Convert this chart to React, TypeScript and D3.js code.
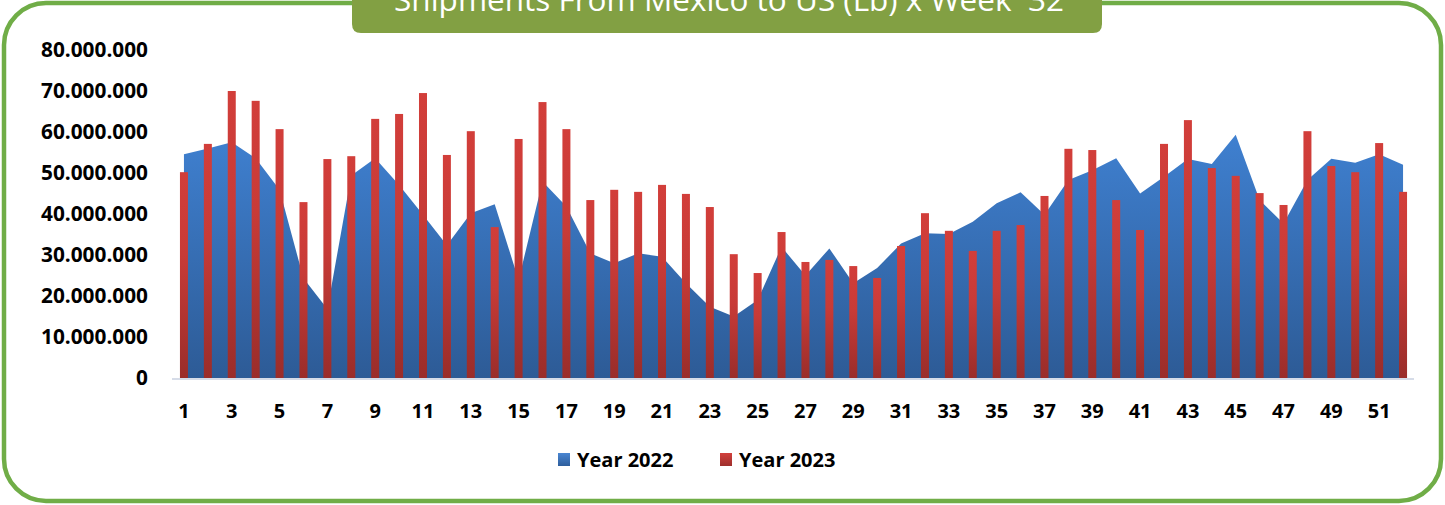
import React from "react";
import * as d3 from "d3";

const weeks: number[] = Array.from({ length: 52 }, (_, i) => i + 1);
const year2022: number[] = [
  54.6, 56.0, 57.5, 53.6, 45.9, 24.3, 16.8, 49.4, 53.6, 47.1,
  39.8, 32.4, 40.2, 42.4, 23.9, 47.9, 41.8, 30.4, 28.0, 30.4,
  29.6, 23.1, 17.4, 15.0, 19.0, 32.0, 25.0, 31.6, 23.1, 26.8,
  32.8, 35.3, 35.1, 38.1, 42.6, 45.3, 39.8, 48.3, 50.7, 53.6,
  45.0, 49.1, 53.4, 52.2, 59.3, 43.4, 37.7, 48.3, 53.5, 52.5,
  54.6, 52.0,
].map((v) => v * 1e6);
const year2023: number[] = [
  50.2, 57.1, 70.0, 67.6, 60.7, 42.9, 53.4, 54.1, 63.2, 64.4,
  69.5, 54.4, 60.2, 36.8, 58.3, 67.3, 60.7, 43.4, 45.9, 45.4,
  47.1, 44.9, 41.7, 30.2, 25.6, 35.6, 28.3, 28.8, 27.3, 24.4,
  32.2, 40.2, 35.9, 31.0, 35.9, 37.3, 44.4, 55.9, 55.6, 43.4,
  36.1, 57.1, 62.9, 51.2, 49.3, 45.1, 42.2, 60.2, 51.7, 50.2,
  57.3, 45.4,
].map((v) => v * 1e6);
const yTicks: number[] = [0, 10e6, 20e6, 30e6, 40e6, 50e6, 60e6, 70e6, 80e6];
const seriesNames: string[] = ["Year 2022", "Year 2023"];
const title = "Shipments From Mexico to US (Lb) x Week  32";

const W = 1445;
const H = 505;

const fmt = (v: number) =>
  v === 0 ? "0" : d3.format(",")(v).replace(/,/g, ".");

export default function App() {
  const x = d3.scaleBand<number>().domain(weeks).range([172, 1415]).padding(0);
  const y = d3.scaleLinear().domain([0, 80e6]).range([378, 50]);
  const cx = (w: number) => (x(w) as number) + x.bandwidth() / 2;
  const barW = 8;

  const area = d3
    .area<number>()
    .x((_, i) => cx(weeks[i]))
    .y0(y(0))
    .y1((d) => y(d));

  const font = "'Open Sans', 'DejaVu Sans', sans-serif";

  return (
    <div style={{ position: "absolute", left: 0, top: 0 }}>
      <svg width={W} height={H} style={{ display: "block" }}>
        <defs>
          <linearGradient id="gBlue" x1="0" y1="0" x2="0" y2="1">
            <stop offset="0%" stopColor="#3F80D0" />
            <stop offset="100%" stopColor="#2D5B96" />
          </linearGradient>
          <linearGradient id="gRed" x1="0" y1="0" x2="0" y2="1">
            <stop offset="0%" stopColor="#D23E3A" />
            <stop offset="40%" stopColor="#C83B37" />
            <stop offset="100%" stopColor="#9A2D2A" />
          </linearGradient>
          <linearGradient id="gBlueL" x1="0" y1="0" x2="0" y2="1">
            <stop offset="0%" stopColor="#4A86D2" />
            <stop offset="100%" stopColor="#2E5E9C" />
          </linearGradient>
          <linearGradient id="gRedL" x1="0" y1="0" x2="0" y2="1">
            <stop offset="0%" stopColor="#D2403C" />
            <stop offset="100%" stopColor="#9E2F2C" />
          </linearGradient>
        </defs>
        <rect width={W} height={H} fill="#ffffff" />
        {/* frame */}
        <rect
          x={4}
          y={3}
          width={W - 8}
          height={H - 7}
          rx={42}
          ry={42}
          fill="#ffffff"
          stroke="#70AD47"
          strokeWidth={4.5}
        />
        {/* title box */}
        <path
          d={`M352,-5 L1102,-5 L1102,24 Q1102,33 1093,33 L361,33 Q352,33 352,24 Z`}
          fill="#82A043"
        />
        <text
          x={729}
          y={11}
          textAnchor="middle"
          fill="#ffffff"
          fontFamily={font}
          fontSize={31.5}
          style={{ whiteSpace: "pre" }}
        >
          {title}
        </text>

        {/* y axis labels */}
        {yTicks.map((t) => (
          <text
            key={t}
            x={148}
            y={y(t)}
            dy="0.35em"
            textAnchor="end"
            fontFamily={font}
            fontWeight={700}
            fontSize={20.8}
            fill="#000"
          >
            {fmt(t)}
          </text>
        ))}

        {/* area 2022 */}
        <path d={area(year2022) as string} fill="url(#gBlue)" />

        {/* bars 2023 */}
        {year2023.map((v, i) => (
          <rect
            key={i}
            x={cx(weeks[i]) - barW / 2}
            y={y(v)}
            width={barW}
            height={y(0) - y(v)}
            fill="url(#gRed)"
          />
        ))}

        {/* baseline */}
        <line
          x1={172}
          x2={1414}
          y1={y(0) + 1}
          y2={y(0) + 1}
          stroke="#D6DCE8"
          strokeWidth={2}
        />

        {/* x labels */}
        {weeks
          .filter((w) => w % 2 === 1)
          .map((w) => (
            <text
              key={w}
              x={cx(w)}
              y={418}
              textAnchor="middle"
              fontFamily={font}
              fontWeight={700}
              fontSize={20}
              fill="#000"
            >
              {w}
            </text>
          ))}

        {/* legend */}
        <rect x={558} y={453} width={12} height={13} fill="url(#gBlueL)" />
        <text
          x={577}
          y={467}
          fontFamily={font}
          fontWeight={700}
          fontSize={20}
          fill="#000"
        >
          {seriesNames[0]}
        </text>
        <rect x={720} y={453} width={12} height={13} fill="url(#gRedL)" />
        <text
          x={739}
          y={467}
          fontFamily={font}
          fontWeight={700}
          fontSize={20}
          fill="#000"
        >
          {seriesNames[1]}
        </text>
      </svg>
    </div>
  );
}
